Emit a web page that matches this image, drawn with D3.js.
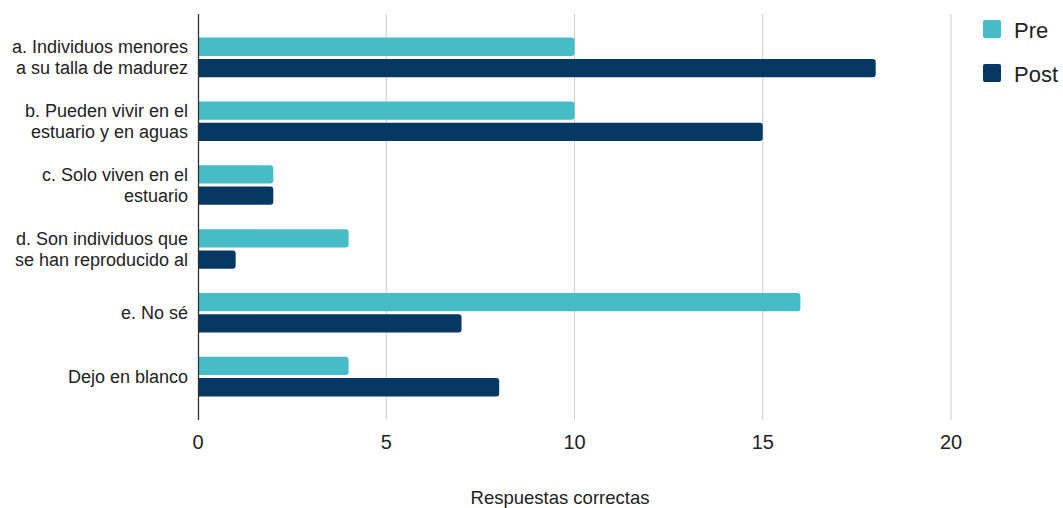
<!DOCTYPE html>
<html><head><meta charset="utf-8">
<script src="https://cdn.jsdelivr.net/npm/d3@7"></script>
<style>body{margin:0;background:#fff}svg{display:block}text{font-family:"Liberation Sans",Arial,sans-serif;fill:#222}</style>
</head><body><svg id="c" width="1063" height="508"></svg>
<script>
const categories = [
  ["a. Individuos menores", "a su talla de madurez"],
  ["b. Pueden vivir en el", "estuario y en aguas"],
  ["c. Solo viven en el", "estuario"],
  ["d. Son individuos que", "se han reproducido al"],
  ["e. No sé"],
  ["Dejo en blanco"]
];
const seriesNames = ["Pre", "Post"];
const preValues = [10, 10, 2, 4, 16, 4];
const postValues = [18, 15, 2, 1, 7, 8];
const xTicks = [0, 5, 10, 15, 20];
const xTitle = "Respuestas correctas";
const colors = ["#46bdc6", "#073763"];

const svg = d3.select("#c");
const pLeft = 198, pRight = 951, pTop = 14, pBottom = 420;
const x = d3.scaleLinear().domain([0, 20]).range([pLeft, pRight]);
const y = d3.scaleBand().domain(d3.range(categories.length)).range([pTop, pBottom]).paddingInner(0.38).paddingOuter(0.37);
const yi = d3.scaleBand().domain([0, 1]).range([0, y.bandwidth()]).paddingInner(0.14);

// gridlines
svg.append("g").selectAll("line").data(xTicks.filter(d => d > 0)).join("line")
  .attr("x1", d => x(d)).attr("x2", d => x(d)).attr("y1", pTop).attr("y2", pBottom)
  .attr("stroke", "#cccccc").attr("stroke-width", 1);

function barPath(x0, y0, w, h, r) {
  r = Math.min(r, w, h / 2);
  return `M${x0},${y0}H${x0 + w - r}Q${x0 + w},${y0} ${x0 + w},${y0 + r}V${y0 + h - r}Q${x0 + w},${y0 + h} ${x0 + w - r},${y0 + h}H${x0}Z`;
}

const data = [];
categories.forEach((c, i) => {
  [preValues[i], postValues[i]].forEach((v, s) => data.push({ i, s, v }));
});
svg.append("g").selectAll("path").data(data).join("path")
  .attr("d", d => barPath(x(0), y(d.i) + yi(d.s), x(d.v) - x(0), yi.bandwidth(), 3))
  .attr("fill", d => colors[d.s]);

// axis line
svg.append("line").attr("x1", pLeft + 0.5).attr("x2", pLeft + 0.5).attr("y1", pTop).attr("y2", pBottom)
  .attr("stroke", "#333").attr("stroke-width", 1.3);

// category labels
const lab = svg.append("g").selectAll("text").data(categories).join("text")
  .attr("text-anchor", "end").attr("font-size", 18);
lab.each(function (lines, i) {
  const cy = y(i) + y.bandwidth() / 2;
  const lh = 21;
  const start = cy - (lines.length - 1) * lh / 2;
  d3.select(this).selectAll("tspan").data(lines).join("tspan")
    .attr("x", 188).attr("y", (d, k) => start + k * lh).attr("dy", "0.35em").text(d => d);
});

// x tick labels
svg.append("g").selectAll("text").data(xTicks).join("text")
  .attr("x", d => x(d)).attr("y", 442).attr("dy", "0.36em").attr("text-anchor", "middle")
  .attr("font-size", 20).text(d => d);

svg.append("text").attr("x", 560).attr("y", 497).attr("dy", "0.36em").attr("text-anchor", "middle")
  .attr("font-size", 18.5).text(xTitle);

// legend
const lg = svg.append("g").selectAll("g").data(seriesNames).join("g")
  .attr("transform", (d, i) => `translate(983,${20 + i * 44})`);
lg.append("rect").attr("width", 18).attr("height", 18).attr("rx", 2).attr("fill", (d, i) => colors[i]);
lg.append("text").attr("x", 31).attr("y", 18).attr("font-size", 22).text(d => d);
</script></body></html>
